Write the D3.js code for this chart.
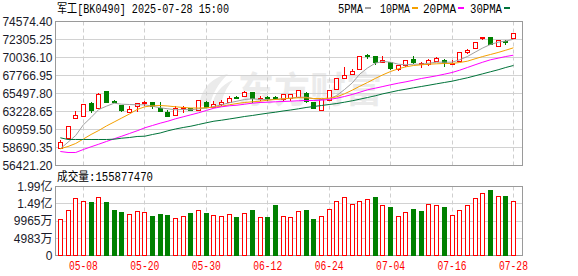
<!DOCTYPE html>
<html>
<head>
<meta charset="utf-8">
<script src="https://cdn.jsdelivr.net/npm/d3@7"></script>
<style>
	body { margin: 0; background: #fff; }
	svg { display: block; }
</style>
</head>
<body>
<script>
// 军工[BK0490] daily K line, 60 trading days
var dates = ["04-30","05-06","05-07","05-08","05-09","05-12","05-13","05-14","05-15","05-16",
	"05-19","05-20","05-21","05-22","05-23","05-26","05-27","05-28","05-29","05-30",
	"06-03","06-04","06-05","06-06","06-09","06-10","06-11","06-12","06-13","06-16",
	"06-17","06-18","06-19","06-20","06-23","06-24","06-25","06-26","06-27","06-30",
	"07-01","07-02","07-03","07-04","07-07","07-08","07-09","07-10","07-11","07-14",
	"07-15","07-16","07-17","07-18","07-21","07-22","07-23","07-24","07-25","07-28"];

var opens = [58527,59783,62308,62636,64238,63569,65750,64480,63985,63065,
	63821,64238,64326,63645,63141,62725,63569,63569,63393,64326,
	63733,64150,64402,65000,65158,65662,64742,64950,64950,64742,
	64906,64994,65498,64402,63393,64650,66002,67351,67931,68524,
	70300,70124,69368,69368,68524,69028,69784,69116,69116,69532,
	69696,69154,69532,70629,71208,72394,72557,71385,72053,72394];
var highs = [59612,61340,63229,64150,64402,65586,65780,64740,64030,63897,
	64326,64490,64402,64402,63393,63897,63897,63700,64650,64490,
	64490,64650,65158,65158,65838,65700,65158,65240,65158,65418,
	65418,65920,65662,64450,64800,65880,67427,68776,68524,70200,
	70452,70200,70200,69400,69100,69700,70288,69443,69872,70124,
	69872,69696,70750,71133,72000,72645,72645,72217,72217,73150];
var lows = [58439,59740,62221,62560,63065,63481,64290,64280,63141,62977,
	63141,63985,63569,63229,62600,62636,63065,63229,63229,63645,
	63700,63985,64238,64742,65082,64238,64578,64578,64650,64578,
	64578,64868,64326,63600,63300,64578,65920,67263,67855,68450,
	69872,69116,69280,68435,68272,68860,69190,68687,68940,69450,
	68776,69028,69450,70452,71150,72217,71549,71300,71637,72344];
var closes = [59359,61295,62725,64074,63393,65334,64326,64420,63317,63481,
	64238,64402,63821,63229,62636,63645,63733,63393,64578,63733,
	64074,64360,64906,64950,65662,64906,64906,64850,64850,65334,
	65334,65838,64490,63645,64742,65838,67351,67767,68272,70124,
	70250,69368,69620,68687,69028,69620,69368,69280,69696,69952,
	69368,69280,70704,70956,71964,72557,71637,72141,71889,73062];

var volumes = [104e6,130e6,164e6,155e6,154e6,167e6,154e6,130e6,124e6,118e6,
	127e6,124e6,113e6,118e6,116e6,107e6,113e6,121e6,130e6,121e6,
	116e6,113e6,118e6,110e6,121e6,130e6,110e6,110e6,145e6,113e6,
	110e6,127e6,130e6,104e6,113e6,133e6,155e6,167e6,147e6,155e6,
	161e6,167e6,143e6,138e6,112e6,123e6,132e6,126e6,146e6,143e6,
	138e6,115e6,129e6,143e6,164e6,179e6,188e6,170e6,170e6,155877470];
// 1 = red (up) volume bar, 0 = green
var volumeUp = [1,1,1,1,0,1,0,0,0,1, 1,1,0,0,0,1,1,0,1,0,
	1,1,1,0,1,0,1,0,0,1, 1,1,0,0,1,1,1,1,1,1,
	1,0,1,0,1,1,0,0,1,1, 0,1,1,1,1,1,0,1,0,1];

var ma5 = [58527,59359,60204,61552,62473,63481,63897,64275,64149,64111,
	64074,64074,63897,63695,63569,63443,63481,63443,63569,63645,
	63859,64074,64326,64527,64742,64830,64742,64742,64742,64830,
	64906,65032,65032,64830,64742,64830,65246,66002,66822,67956,
	68713,69318,69532,69444,69192,69116,69192,69192,69318,69444,
	69444,69444,69746,70162,70704,71234,71675,71965,72116,72331];
var ma10 = [58527,58817,59195,59762,60330,60834,61401,61905,62410,62914,
	63481,63822,63948,63985,63922,63822,63733,63670,63670,63708,
	63771,63897,64074,64237,64364,64452,64527,64653,64742,64830,
	64906,64956,64956,64868,64868,64906,65082,65460,65914,66418,
	66885,67389,67855,68271,68612,68864,69028,69116,69192,69242,
	69280,69280,69406,69570,69872,70162,70414,70667,70956,71259];
var ma20 = [58187,58061,58061,58439,58779,59107,59447,59788,60115,60456,
	60796,61174,61464,61754,62006,62309,62561,62813,63065,63355,
	63645,63822,63948,64023,64149,64275,64364,64401,64452,64490,
	64527,64578,64616,64616,64653,64742,64906,65120,65372,65662,
	65964,66166,66380,66595,66796,66973,67175,67389,67553,67729,
	67931,68145,68435,68776,69116,69444,69746,69948,70162,70326];
var ma30 = [59914,59699,59699,59699,59699,59699,59699,59737,59863,59951,
	60078,60115,60330,60519,60796,61023,61212,61376,61590,61805,
	62006,62132,62284,62435,62599,62725,62876,63015,63141,63292,
	63418,63569,63733,63859,63985,64111,64237,64401,64578,64780,
	64994,65208,65460,65662,65876,66040,66217,66380,66544,66721,
	66885,67049,67263,67477,67729,67981,68234,68486,68776,69028];

var priceTicks = [56421.20,58690.35,60959.50,63228.65,65497.80,67766.95,70036.10,72305.25,74574.40];
var volumeTicks = [0,49825000,99650000,149475000,199300000];
var volumeTickLabels = ["0","4983万","9965万","1.49亿","1.99亿"];
var dateLabels = ["05-08","05-20","05-30","06-12","06-24","07-04","07-16","07-28"];

var maNames = ["5PMA","10PMA","20PMA","30PMA"];
var maColors = ["#a0a0a0","#f5a000","#ff00ff","#00733a"];

var up = "#ff0000", down = "#008000";
var left = 55.5, right = 522.5;
var priceTop = 21.5, priceBottom = 165.5, volTop = 186.5, volBottom = 255.5;
var monoFont = "'Liberation Mono','Noto Sans CJK SC',monospace";
var cjkFont = "'Liberation Mono','Noto Sans CJK SC',sans-serif";

var svg = d3.select("body").append("svg").attr("width", 578).attr("height", 276);

var x = d3.scaleBand().domain(dates).range([56.5, 517.3]);
var y = d3.scaleLinear().domain([priceTicks[0], priceTicks[priceTicks.length - 1]]).range([priceBottom, priceTop]);
var yVol = d3.scaleLinear().domain([0, volumeTicks[volumeTicks.length - 1]]).range([volBottom, volTop]);

function cx(d) { return x(d) + x.bandwidth() / 2; }
function crisp(v) { return Math.round(v - 0.5) + 0.5; }

var rows = dates.map(function (d, i) {
	return {date: d, open: opens[i], high: highs[i], low: lows[i], close: closes[i], volume: volumes[i], volUp: volumeUp[i]};
});

drawWatermark();
drawGrid();
drawAxes();
drawCandles();
drawMovingAverages();
drawVolume();
drawTexts();

function drawWatermark() {
	var g = svg.append("g").attr("fill", "#ebebeb");
	g.append("path").attr("d", "M199,106 C201,90 210,78 228,74 C218,84 212,94 210,106 Z");
	g.append("path").attr("d", "M212,106 C214,94 221,85 233,80 C226,88 222,97 221,106 Z");
	g.append("path").attr("d", "M205,92 C209,84 216,79 224,77 C216,80 210,86 207,94 Z");
	g.append("text")
		.attr("x", 238)
		.attr("y", 103)
		.attr("font-family", "'Noto Sans CJK SC',sans-serif")
		.attr("font-weight", "bold")
		.attr("font-size", 36)
		.text("东方财富");
}

function drawGrid() {
	svg.selectAll("line.hgrid")
		.data(priceTicks.slice(1, -1))
		.enter().append("line")
		.attr("class", "hgrid")
		.attr("x1", left).attr("x2", right)
		.attr("y1", function(d) { return crisp(y(d)); })
		.attr("y2", function(d) { return crisp(y(d)); })
		.style("stroke", "#d2d2d2");

	svg.selectAll("line.vgrid")
		.data(volumeTicks.slice(1, -1))
		.enter().append("line")
		.attr("class", "vgrid")
		.attr("x1", left).attr("x2", right)
		.attr("y1", function(d) { return crisp(yVol(d)); })
		.attr("y2", function(d) { return crisp(yVol(d)); })
		.style("stroke", "#d2d2d2");

	[[priceTop, priceBottom], [volTop, volBottom]].forEach(function (p) {
		svg.selectAll(null)
			.data(dateLabels)
			.enter().append("line")
			.attr("x1", function(d) { return Math.floor(cx(d)) + 0.5; })
			.attr("x2", function(d) { return Math.floor(cx(d)) + 0.5; })
			.attr("y1", p[0]).attr("y2", p[1])
			.style("stroke", "#cfcfcf")
			.style("stroke-dasharray", "4,3");
		svg.append("rect")
			.attr("x", left).attr("y", p[0])
			.attr("width", right - left).attr("height", p[1] - p[0])
			.attr("fill", "none")
			.style("stroke", "#9a9a9a");
	});
}

function drawAxes() {
	var priceAxis = d3.axisLeft(y)
		.tickValues(priceTicks)
		.tickSize(0)
		.tickPadding(3)
		.tickFormat(function(d) { return d.toFixed(2); });
	var g = svg.append("g").attr("transform", "translate(" + left + ",0)").call(priceAxis);
	g.select(".domain").remove();
	g.selectAll("text")
		.attr("font-family", "'Liberation Sans',Arial,sans-serif")
		.attr("font-size", 12)
		.attr("fill", "#1a1a2a");

	var volAxis = d3.axisLeft(yVol)
		.tickValues(volumeTicks)
		.tickSize(0)
		.tickPadding(3)
		.tickFormat(function(d, i) { return volumeTickLabels[i]; });
	var gv = svg.append("g").attr("transform", "translate(" + left + ",0)").call(volAxis);
	gv.select(".domain").remove();
	gv.selectAll("text")
		.attr("font-family", "'Liberation Sans','Noto Sans CJK SC',sans-serif")
		.attr("font-size", 12)
		.attr("fill", "#1a1a2a");

	var dateAxis = d3.axisBottom(x)
		.tickValues(dateLabels)
		.tickSize(0)
		.tickPadding(6);
	var gd = svg.append("g").attr("transform", "translate(0," + volBottom + ")").call(dateAxis);
	gd.select(".domain").remove();
	gd.selectAll("text")
		.attr("font-family", monoFont)
		.attr("font-size", 12)
		.attr("fill", up)
		.attr("textLength", 29)
		.attr("lengthAdjust", "spacingAndGlyphs");
}

function drawCandles() {
	var g = svg.append("g").attr("shape-rendering", "crispEdges");
	g.selectAll("line")
		.data(rows)
		.enter().append("line")
		.attr("x1", function(d) { return Math.floor(cx(d.date)) + 0.5; })
		.attr("x2", function(d) { return Math.floor(cx(d.date)) + 0.5; })
		.attr("y1", function(d) { return Math.round(y(d.high)); })
		.attr("y2", function(d) { return Math.round(y(d.low)); })
		.style("stroke", function(d) { return d.close >= d.open ? up : down; });

	g.selectAll("rect")
		.data(rows)
		.enter().append("rect")
		.attr("x", function(d) { return Math.floor(cx(d.date)) - 2 + 0.5; })
		.attr("width", 4)
		.attr("y", function(d) { return crisp(y(Math.max(d.open, d.close))); })
		.attr("height", function(d) {
			var h = crisp(y(Math.min(d.open, d.close))) - crisp(y(Math.max(d.open, d.close)));
			return Math.max(h, 1);
		})
		.attr("fill", function(d) { return d.close >= d.open ? "#fff" : down; })
		.style("stroke", function(d) { return d.close >= d.open ? up : down; });
}

function drawMovingAverages() {
	var line = d3.line()
		.x(function(d, i) { return cx(dates[i]); })
		.y(function(d) { return y(d); });
	svg.selectAll("path.ma")
		.data([ma5, ma10, ma20, ma30])
		.enter().append("path")
		.attr("class", "ma")
		.attr("d", line)
		.attr("fill", "none")
		.style("stroke", function(d, i) { return maColors[i]; })
		.style("stroke-width", 1);
}

function drawVolume() {
	svg.append("g").attr("shape-rendering", "crispEdges")
		.selectAll("rect")
		.data(rows)
		.enter().append("rect")
		.attr("x", function(d) { return Math.floor(cx(d.date)) - 2 + 0.5; })
		.attr("width", 4)
		.attr("y", function(d) { return crisp(yVol(d.volume)); })
		.attr("height", function(d) { return volBottom - crisp(yVol(d.volume)); })
		.attr("fill", function(d) { return d.volUp ? "#fff" : down; })
		.style("stroke", function(d) { return d.volUp ? up : down; });
}

function drawTexts() {
	svg.append("text")
		.attr("x", 57).attr("y", 13)
		.attr("font-family", cjkFont)
		.attr("font-size", 12)
		.attr("fill", "#000")
		.attr("textLength", 172)
		.attr("lengthAdjust", "spacingAndGlyphs")
		.text("军工[BK0490] 2025-07-28 15:00");

	var legendX = [338, 380, 423, 470];
	var legendW = [25, 30, 33, 32];
	var lg = svg.selectAll("g.legend")
		.data(maNames)
		.enter().append("g")
		.attr("class", "legend");
	lg.append("text")
		.attr("x", function(d, i) { return legendX[i]; })
		.attr("y", 13)
		.attr("font-family", monoFont)
		.attr("font-size", 12)
		.attr("fill", "#000")
		.attr("textLength", function(d, i) { return legendW[i]; })
		.attr("lengthAdjust", "spacingAndGlyphs")
		.text(function(d) { return d; });
	lg.append("rect")
		.attr("x", function(d, i) { return legendX[i] + legendW[i] + 2; })
		.attr("y", 7)
		.attr("width", 6)
		.attr("height", 2)
		.attr("fill", function(d, i) { return maColors[i]; });

	svg.append("text")
		.attr("x", 57).attr("y", 181)
		.attr("font-family", cjkFont)
		.attr("font-size", 12)
		.attr("fill", "#000")
		.attr("textLength", 96)
		.attr("lengthAdjust", "spacingAndGlyphs")
		.text("成交量:" + volumes[volumes.length - 1]);
}
</script>
</body>
</html>
